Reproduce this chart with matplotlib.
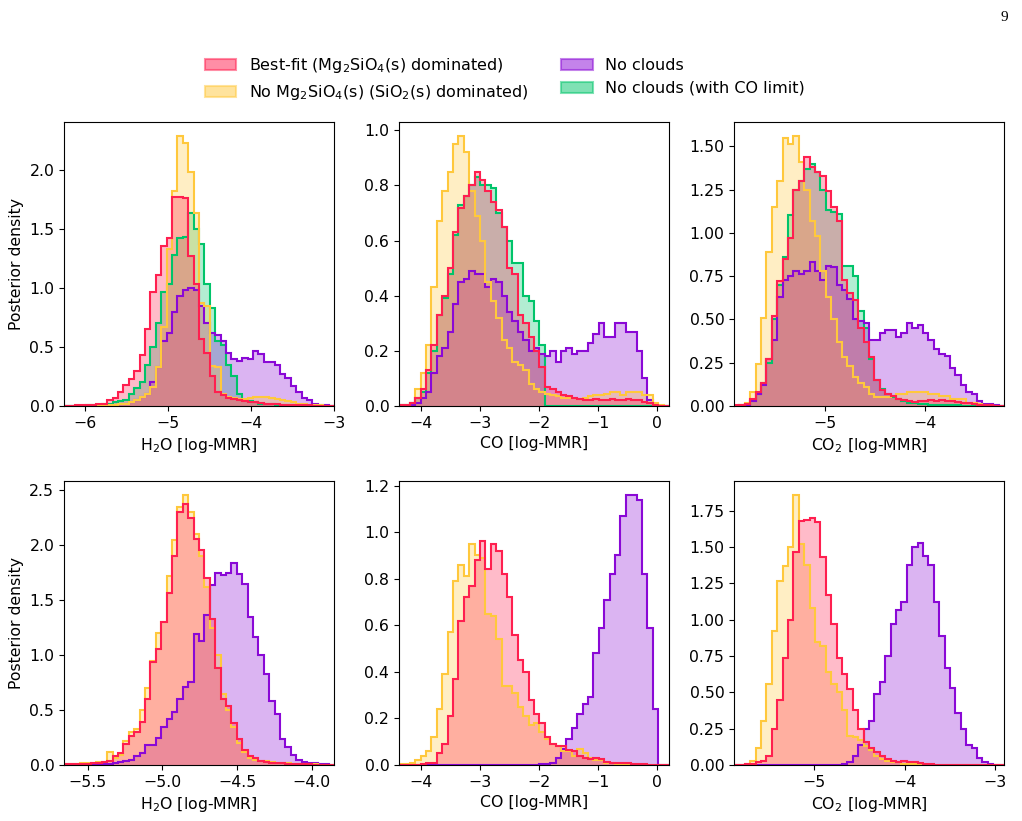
import numpy as np
import matplotlib
matplotlib.use("Agg")
import matplotlib.pyplot as plt
from matplotlib.patches import Patch
from matplotlib.ticker import MultipleLocator

# ---------------- data ----------------
labels = ["Best-fit (Mg$_2$SiO$_4$(s) dominated)",
          "No Mg$_2$SiO$_4$(s) (SiO$_2$(s) dominated)",
          "No clouds",
          "No clouds (with CO limit)"]
colors = ["#ff1f4f", "#ffc83c", "#8a08d6", "#00c46a"]

xlabels = ["H$_2$O [log-MMR]", "CO [log-MMR]", "CO$_2$ [log-MMR]"]

# histogram ranges (bin edges span) for each panel, 50 bins each
range_A = [-6.25, -3.00]
range_B = [-4.37, 0.21]
range_C = [-5.91, -3.21]
range_D = [-5.66, -3.85]
range_E = [-4.38, 0.20]
range_F = [-5.89, -2.90]
n_bins = 50

# tick spacing (x, y) per panel
ticks_A = [1.0, 0.5]
ticks_B = [1.0, 0.2]
ticks_C = [1.0, 0.25]
ticks_D = [0.5, 0.5]
ticks_E = [1.0, 0.2]
ticks_F = [1.0, 0.25]

# ---- top row: H2O ----
red_A = [0.003,0.004,0.005,0.006,0.008, 0.012,0.02,0.02,0.05,0.07,
         0.12,0.18,0.23,0.30,0.43, 0.65,0.97,1.11,1.36,1.42,
         1.77,1.77,1.76,1.27,1.03, 0.57,0.45,0.25,0.12,0.09,
         0.07,0.06,0.05,0.04,0.03, 0.03,0.025,0.02,0.02,0.015,
         0.012,0.01,0.008,0.007,0.006, 0.005,0.004,0.003,0.002,0.002]
yellow_A = [0.002,0.002,0.003,0.003,0.004, 0.005,0.006,0.008,0.01,0.012,
            0.015,0.02,0.03,0.05,0.08, 0.10,0.16,0.33,0.67,1.33,
            1.82,2.29,2.23,1.98,1.64, 0.87,0.85,0.34,0.33,0.10,
            0.08,0.07,0.06,0.06,0.07, 0.08,0.08,0.08,0.07,0.06,
            0.05,0.04,0.03,0.02,0.015, 0.01,0.008,0.005,0.003,0.002]
purple_A = [0.001,0.001,0.002,0.002,0.003, 0.004,0.005,0.007,0.01,0.012,
            0.015,0.02,0.03,0.05,0.08, 0.10,0.20,0.33,0.55,0.62,
            0.80,0.93,0.98,1.00,0.98, 0.85,0.70,0.62,0.60,0.55,
            0.45,0.40,0.38,0.41,0.40, 0.47,0.44,0.37,0.37,0.35,
            0.27,0.24,0.17,0.12,0.07, 0.05,0.02,0.01,0.005,0.003]
green_A = [0.002,0.002,0.003,0.004,0.005, 0.007,0.01,0.015,0.02,0.03,
           0.04,0.05,0.10,0.15,0.20, 0.35,0.50,0.70,0.97,1.03,
           1.28,1.42,1.43,1.64,1.50, 1.37,1.03,0.83,0.55,0.52,
           0.35,0.25,0.10,0.05,0.04, 0.03,0.02,0.02,0.015,0.01,
           0.01,0.008,0.006,0.005,0.004, 0.003,0.002,0.002,0.001,0.001]

# ---- top row: CO ----
red_B = [0.002,0.003,0.01,0.03,0.06, 0.13,0.22,0.33,0.40,0.50,
         0.63,0.72,0.76,0.80,0.85, 0.82,0.78,0.74,0.71,0.65,
         0.50,0.48,0.33,0.30,0.25, 0.20,0.14,0.07,0.06,0.05,
         0.04,0.035,0.03,0.025,0.02, 0.02,0.025,0.02,0.02,0.025,
         0.02,0.02,0.025,0.02,0.02, 0.015,0.01,0.005,0.0,0.0]
yellow_B = [0.002,0.005,0.01,0.06,0.12, 0.22,0.43,0.67,0.78,0.85,
            0.95,0.98,0.92,0.78,0.69, 0.60,0.45,0.38,0.32,0.24,
            0.21,0.16,0.15,0.13,0.08, 0.06,0.05,0.045,0.04,0.035,
            0.03,0.03,0.03,0.025,0.03, 0.035,0.04,0.04,0.045,0.05,
            0.05,0.04,0.05,0.05,0.05, 0.04,0.04,0.01,0.002,0.0]
purple_B = [0.0,0.001,0.005,0.01,0.03, 0.05,0.12,0.18,0.21,0.27,
            0.37,0.45,0.46,0.49,0.48, 0.48,0.43,0.46,0.45,0.40,
            0.34,0.31,0.27,0.24,0.20, 0.21,0.19,0.18,0.20,0.16,
            0.20,0.21,0.19,0.20,0.20, 0.23,0.26,0.30,0.25,0.25,
            0.30,0.30,0.27,0.27,0.20, 0.10,0.02,0.0,0.0,0.0]
green_B = [0.002,0.004,0.01,0.03,0.05, 0.12,0.20,0.33,0.39,0.48,
           0.62,0.73,0.76,0.80,0.83, 0.80,0.80,0.79,0.70,0.65,
           0.60,0.52,0.52,0.40,0.38, 0.31,0.22,0.0,0.0,0.0,
           0.0,0.0,0.0,0.0,0.0, 0.0,0.0,0.0,0.0,0.0,
           0.0,0.0,0.0,0.0,0.0, 0.0,0.0,0.0,0.0,0.0]

# ---- top row: CO2 ----
red_C = [0.003,0.005,0.01,0.04,0.08, 0.13,0.27,0.52,0.72,0.85,
         0.97,1.25,1.30,1.44,1.38, 1.35,1.33,1.24,1.15,1.07,
         0.73,0.65,0.61,0.45,0.37, 0.28,0.15,0.09,0.07,0.06,
         0.04,0.035,0.03,0.025,0.03, 0.03,0.035,0.03,0.035,0.03,
         0.03,0.025,0.02,0.02,0.01, 0.008,0.005,0.003,0.002,0.001]
yellow_C = [0.002,0.005,0.02,0.08,0.24, 0.51,0.89,1.15,1.30,1.55,
            1.51,1.56,1.41,1.25,1.07, 0.98,0.78,0.63,0.50,0.37,
            0.28,0.23,0.17,0.13,0.11, 0.07,0.05,0.05,0.05,0.06,
            0.07,0.07,0.08,0.08,0.08, 0.08,0.07,0.07,0.06,0.06,
            0.04,0.04,0.04,0.02,0.015, 0.01,0.005,0.003,0.002,0.001]
purple_C = [0.001,0.002,0.005,0.03,0.07, 0.12,0.27,0.38,0.63,0.73,
            0.75,0.78,0.76,0.78,0.83, 0.78,0.73,0.81,0.80,0.70,
            0.67,0.62,0.50,0.49,0.48, 0.38,0.38,0.42,0.44,0.44,
            0.40,0.42,0.48,0.45,0.47, 0.42,0.38,0.33,0.30,0.29,
            0.22,0.18,0.12,0.08,0.07, 0.03,0.01,0.01,0.005,0.0]
green_C = [0.002,0.004,0.01,0.03,0.07, 0.13,0.25,0.50,0.70,0.86,
           1.10,1.25,1.30,1.37,1.40, 1.35,1.25,1.13,1.12,1.11,
           0.81,0.81,0.75,0.55,0.45, 0.27,0.15,0.10,0.07,0.05,
           0.04,0.03,0.02,0.015,0.01, 0.01,0.008,0.006,0.005,0.004,
           0.003,0.003,0.002,0.002,0.001, 0.001,0.001,0.0,0.0,0.0]

# ---- bottom row: H2O ----
red_D = [0.005,0.008,0.005,0.01,0.01, 0.015,0.02,0.03,0.04,0.08,
         0.11,0.19,0.26,0.30,0.39, 0.60,0.94,1.06,1.30,1.57,
         1.90,2.30,2.38,2.25,2.06, 1.96,1.70,1.33,0.88,0.60,
         0.54,0.38,0.24,0.14,0.085, 0.06,0.04,0.03,0.02,0.02,
         0.015,0.01,0.01,0.008,0.005, 0.005,0.003,0.003,0.002,0.002]
yellow_D = [0.01,0.005,0.01,0.02,0.015, 0.02,0.03,0.03,0.12,0.06,
            0.09,0.22,0.30,0.33,0.50, 0.70,0.95,1.20,1.30,1.72,
            2.05,2.35,2.46,2.30,2.10, 1.90,1.62,1.25,1.00,0.65,
            0.50,0.35,0.20,0.12,0.06, 0.05,0.04,0.04,0.03,0.02,
            0.02,0.015,0.01,0.01,0.008, 0.005,0.005,0.003,0.002,0.001]
purple_D = [0.001,0.001,0.002,0.002,0.003, 0.004,0.005,0.008,0.01,0.02,
            0.03,0.04,0.05,0.08,0.11, 0.18,0.18,0.25,0.35,0.42,
            0.48,0.60,0.71,0.76,1.19, 1.13,1.37,1.64,1.75,1.73,
            1.75,1.84,1.74,1.65,1.35, 1.17,1.00,0.83,0.58,0.46,
            0.24,0.16,0.09,0.05,0.025, 0.02,0.015,0.01,0.005,0.003]

# ---- bottom row: CO ----
red_E = [0.0,0.0,0.001,0.002,0.004, 0.008,0.01,0.05,0.09,0.21,
         0.37,0.62,0.72,0.77,0.88, 0.96,0.84,0.95,0.92,0.82,
         0.72,0.56,0.45,0.40,0.28, 0.22,0.18,0.12,0.09,0.08,
         0.08,0.065,0.06,0.04,0.03, 0.025,0.03,0.025,0.012,0.01,
         0.01,0.008,0.01,0.005,0.005, 0.003,0.002,0.001,0.0,0.0]
yellow_E = [0.003,0.005,0.01,0.02,0.04, 0.06,0.12,0.24,0.39,0.57,
            0.79,0.86,0.81,0.95,0.90, 0.89,0.65,0.64,0.54,0.34,
            0.34,0.31,0.25,0.21,0.17, 0.18,0.14,0.11,0.09,0.08,
            0.06,0.06,0.04,0.07,0.05, 0.03,0.02,0.02,0.01,0.01,
            0.005,0.005,0.003,0.002,0.0, 0.0,0.0,0.0,0.0,0.0]
purple_E = [0.0,0.0,0.0,0.0,0.0, 0.0,0.0,0.0,0.0,0.0,
            0.0,0.0,0.0,0.0,0.0, 0.0,0.0,0.0,0.0,0.0,
            0.0,0.0,0.0,0.0,0.001, 0.002,0.003,0.005,0.01,0.03,
            0.07,0.11,0.16,0.22,0.26, 0.29,0.48,0.59,0.71,0.82,
            0.90,1.07,1.16,1.16,1.14, 0.82,0.59,0.24,0.0,0.0]

# ---- bottom row: CO2 ----
red_F = [0.001,0.002,0.005,0.01,0.02, 0.03,0.06,0.25,0.45,0.74,
         1.00,1.47,1.68,1.69,1.70, 1.67,1.43,1.17,0.97,0.74,
         0.63,0.52,0.38,0.25,0.16, 0.12,0.09,0.06,0.04,0.03,
         0.02,0.025,0.02,0.02,0.015, 0.01,0.005,0.003,0.002,0.001,
         0.0,0.0,0.0,0.0,0.0, 0.0,0.0,0.0,0.0,0.0]
yellow_F = [0.001,0.002,0.005,0.03,0.12, 0.30,0.56,0.92,1.27,1.37,
            1.50,1.86,1.52,1.38,1.08, 0.85,0.82,0.64,0.56,0.50,
            0.38,0.20,0.19,0.17,0.13, 0.10,0.06,0.04,0.03,0.02,
            0.02,0.01,0.01,0.008,0.005, 0.003,0.002,0.001,0.001,0.0,
            0.0,0.0,0.0,0.0,0.0, 0.0,0.0,0.0,0.0,0.0]
purple_F = [0.0,0.0,0.0,0.0,0.0, 0.0,0.0,0.0,0.0,0.0,
            0.0,0.0,0.0,0.002,0.003, 0.003,0.003,0.003,0.002,0.003,
            0.005,0.02,0.06,0.14,0.25, 0.30,0.49,0.57,0.75,0.97,
            1.07,1.12,1.38,1.50,1.53, 1.44,1.38,1.12,0.89,0.67,
            0.53,0.36,0.25,0.14,0.12, 0.05,0.02,0.01,0.002,0.0]

# ---------------- figure ----------------
FS = 11.3
fig = plt.figure(figsize=(10.22, 8.21), dpi=100)

col_left = [0.0626, 0.3904, 0.7182]
width = 0.2642
row_bottom = [0.5055, 0.0682]
height = 0.3455

panels = [
    (0, 0, range_A, ticks_A, [red_A, yellow_A, purple_A, green_A], 0),
    (0, 1, range_B, ticks_B, [red_B, yellow_B, purple_B, green_B], 1),
    (0, 2, range_C, ticks_C, [red_C, yellow_C, purple_C, green_C], 2),
    (1, 0, range_D, ticks_D, [red_D, yellow_D, purple_D], 0),
    (1, 1, range_E, ticks_E, [red_E, yellow_E, purple_E], 1),
    (1, 2, range_F, ticks_F, [red_F, yellow_F, purple_F], 2),
]

for row, col, rng, tks, series, xl in panels:
    ax = fig.add_axes([col_left[col], row_bottom[row], width, height])
    edges = np.linspace(rng[0], rng[1], n_bins + 1)
    pairs = list(zip(series, colors))
    # fills: last drawn is the best-fit (red) one
    for vals, c in reversed(pairs):
        ax.stairs(vals, edges, fill=True, color=c, alpha=0.3, lw=1.5)
    # outlines on top (red last)
    for vals, c in reversed(pairs):
        ax.stairs(vals, edges, fill=False, color=c, lw=1.5)
    ax.set_xlim(rng[0], rng[1])
    ymax = max(max(v) for v in series)
    ax.set_ylim(0, ymax * 1.05)
    ax.xaxis.set_major_locator(MultipleLocator(tks[0]))
    ax.yaxis.set_major_locator(MultipleLocator(tks[1]))
    if tks[1] == 0.25:
        ax.yaxis.set_major_formatter(plt.FormatStrFormatter("%.2f"))
    else:
        ax.yaxis.set_major_formatter(plt.FormatStrFormatter("%.1f"))
    if tks[0] == 0.5:
        ax.xaxis.set_major_formatter(plt.FuncFormatter(
            lambda v, p: ("%.1f" % v).replace("-", "\u2212")))
    ax.set_xlabel(xlabels[xl], fontsize=FS)
    if col == 0:
        ax.set_ylabel("Posterior density", fontsize=FS)
    ax.tick_params(labelsize=FS)

handles = [Patch(facecolor=c, edgecolor=c, alpha=0.5, lw=1.5) for c in colors]
fig.legend(handles, labels, loc="center", bbox_to_anchor=(0.494, 0.904),
           ncol=2, frameon=False, fontsize=11.5)

fig.text(0.983, 0.979, "9", fontsize=11, family="Liberation Serif",
         ha="center", va="center")

fig.savefig("out.png", dpi=100)
